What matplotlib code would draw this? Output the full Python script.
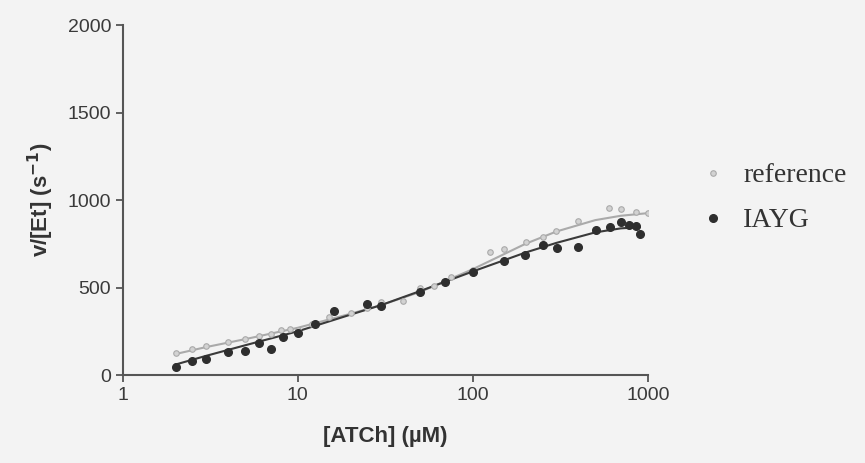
import matplotlib
matplotlib.use('Agg')
import matplotlib.pyplot as plt

# data
ref_x = [2, 2.5, 3, 4, 5, 6, 7, 8, 9, 10, 12, 15, 20, 25, 30, 40, 50, 60, 75,
         100, 125, 150, 200, 250, 300, 400, 600, 700, 850, 1000]
ref_y = [126, 150, 165, 190, 205, 225, 235, 255, 265, 255, 290, 330, 356, 385, 420,
         425, 500, 510, 560, 600, 701, 718, 759, 790, 822, 879, 954, 948, 931, 925]

iayg_x = [2, 2.5, 3, 4, 5, 6, 7, 8.2, 10, 12.5, 16, 25, 30, 50, 69, 100, 151, 199,
          253, 304, 401, 502, 605, 700, 778, 853, 899]
iayg_y = [46, 80, 92, 132, 138, 184, 149, 218, 241, 290, 365, 408, 395, 477, 532,
          586, 649, 684, 741, 724, 730, 828, 845, 874, 856, 851, 805]

# fitted curves
ref_fit_x = [2, 3, 5, 10, 20, 30, 50, 100, 200, 300, 500, 700, 1000]
ref_fit_y = [120, 160, 205, 270, 350, 400, 475, 605, 750, 820, 885, 910, 925]
iayg_fit_x = [2, 3, 5, 10, 20, 30, 50, 100, 200, 300, 500, 700, 900]
iayg_fit_y = [60, 110, 170, 250, 345, 400, 480, 592, 700, 755, 815, 838, 845]

bg = '#f3f3f3'
fig = plt.figure(figsize=(8.65, 4.63), dpi=100, facecolor=bg)
ax = fig.add_axes([0.142, 0.19, 0.607, 0.756], facecolor=bg)

ax.plot(ref_fit_x, ref_fit_y, color='#aaaaaa', lw=1.5, zorder=2)
ax.plot(iayg_fit_x, iayg_fit_y, color='#3a3a3a', lw=1.5, zorder=2)
ax.plot(ref_x, ref_y, 'o', ms=4, mfc='#d2d2d2', mec='#aaaaaa', mew=0.8,
        label='reference', zorder=3)
ax.plot(iayg_x, iayg_y, 'o', ms=5.5, mfc='#2e2e2e', mec='#2e2e2e',
        label='IAYG', zorder=3)

ax.set_xscale('log')
ax.set_xlim(1, 1000)
ax.set_ylim(0, 2000)
ax.set_xticks([1, 10, 100, 1000])
ax.set_xticklabels(['1', '10', '100', '1000'])
ax.minorticks_off()
ax.set_yticks([0, 500, 1000, 1500, 2000])

for s in ['top', 'right']:
    ax.spines[s].set_visible(False)
for s in ['left', 'bottom']:
    ax.spines[s].set_color('#555555')
    ax.spines[s].set_linewidth(1.5)
ax.tick_params(direction='out', length=5, width=1.3, color='#555555',
               labelsize=14, labelcolor='#3a3a3a')
for lab in ax.get_xticklabels() + ax.get_yticklabels():
    lab.set_family('Liberation Sans')

ax.set_xlabel('[ATCh] (µM)', fontsize=16, fontweight='bold', color='#333333',
              family='Liberation Sans', labelpad=16)
ax.set_ylabel(r'v/[Et] (s$^{\mathbf{-1}}$)', fontsize=16, fontweight='bold',
              color='#333333', family='Liberation Sans', labelpad=8)

fig.legend(loc='center left', bbox_to_anchor=(0.782, 0.572), frameon=False,
           handlelength=0.8, handletextpad=0.7, labelspacing=0.7,
           prop={'family': 'Liberation Serif', 'size': 20}, labelcolor='#333333')

plt.savefig('out.png', dpi=100, facecolor=bg)
